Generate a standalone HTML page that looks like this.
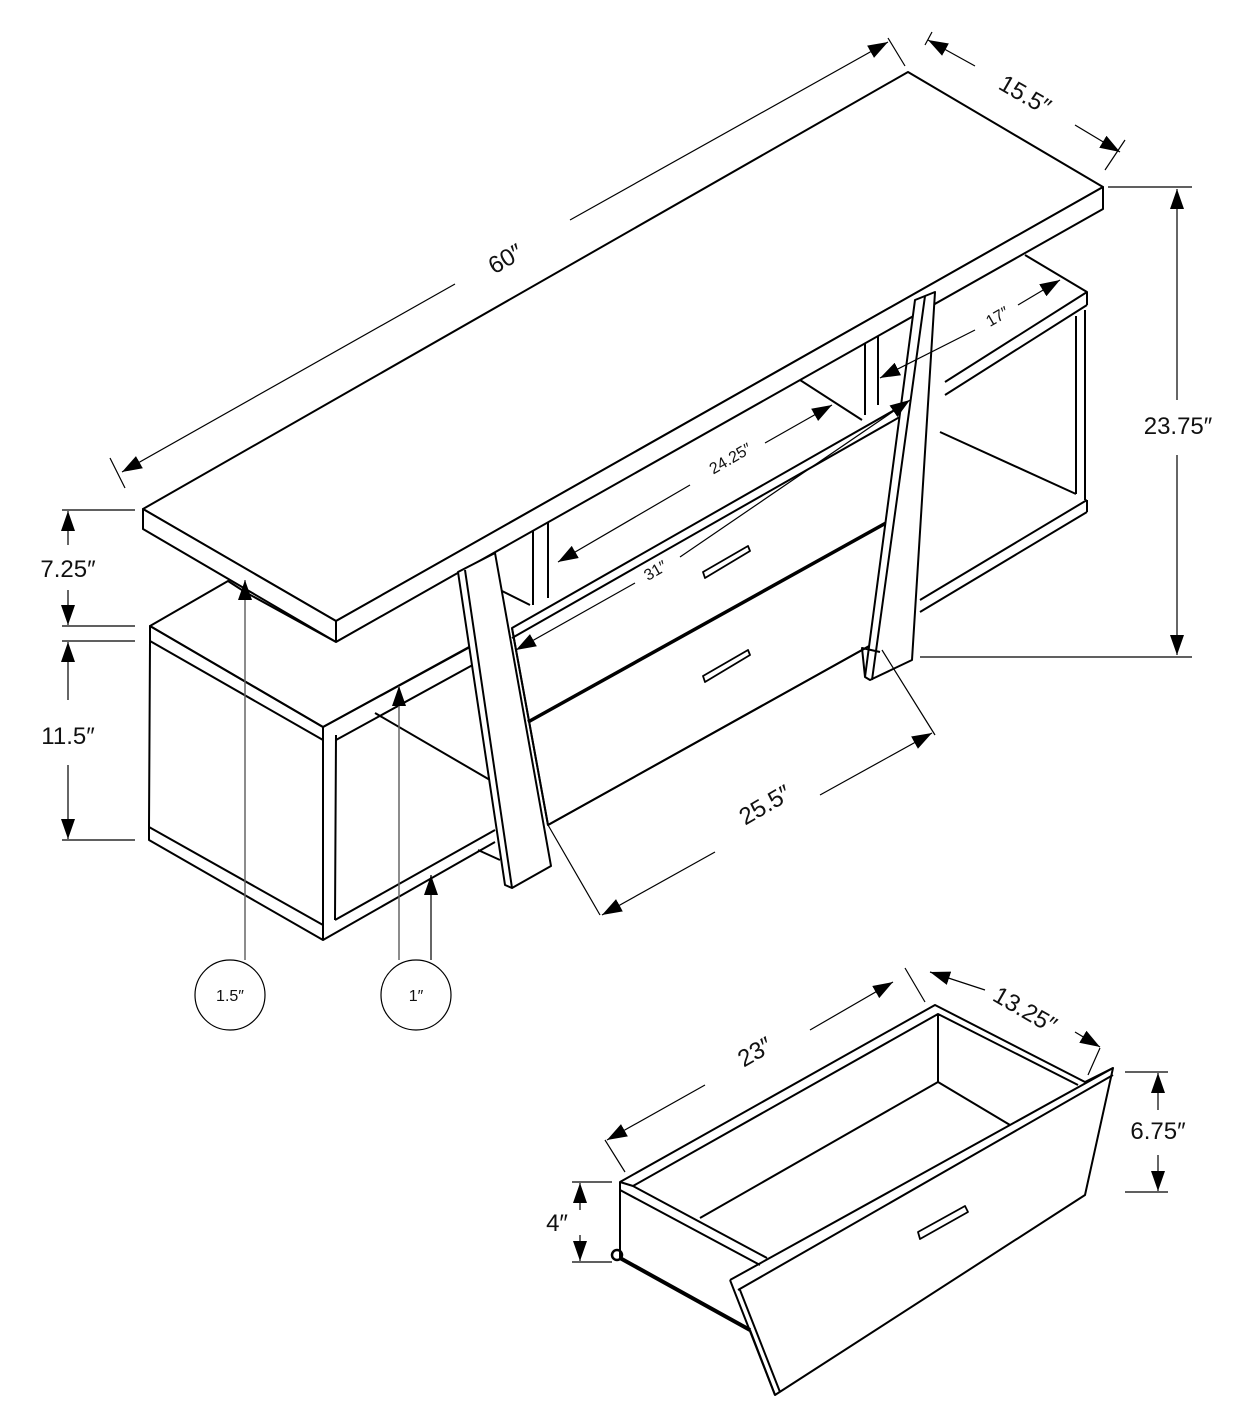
<!DOCTYPE html>
<html><head><meta charset="utf-8"><style>
html,body{margin:0;padding:0;background:#fff}
svg{display:block}
text{font-family:"Liberation Sans",sans-serif;fill:#111}
</style></head><body>
<svg width="1252" height="1404" viewBox="0 0 1252 1404" xmlns="http://www.w3.org/2000/svg">
<defs>
<marker id="b" viewBox="0 0 10 10" refX="10" refY="5" markerWidth="20" markerHeight="20" orient="auto-start-reverse" markerUnits="userSpaceOnUse"><path d="M0,1.5 L10,5 L0,8.5 z" fill="#000"/></marker>
</defs>
<g fill="none" stroke="#000" stroke-width="2" stroke-linejoin="round">
<path d="M1025,255 L1087,292 L1087,305 M1087,292 L945,382 M1087,305 L945,395 M1085,310 L1085,500 M1076,316 L1076,494 M1087,500 L920,600 M1087,512 L920,612 M1087,500 L1087,512 M940,432 L1076,494"/>
<path d="M865,340 L865,415 M878,333 L878,405 M800,380 L862,420 M533,530 L533,605 M548,522 L548,598 M500,590 L530,605"/>
<path fill="#fff" d="M143,509 L908,72 L1103,187 L336,621 Z"/>
<path fill="#fff" d="M143,509 L336,621 L1103,187 L1103,209 L336,642 L143,529 Z"/>
<path d="M336,621 L336,642"/>
<path fill="#fff" d="M150,626 L228,581 L245,592 L336,642 L470,566 L470,647 L323,727 Z"/>
<path d="M150,626 L323,727 L323,740 L150,641 Z M150,641 L149,827 L323,925 M149,827 L149,840 L323,940 L323,925 M323,740 L323,940 M336,735 L335,920 M323,727 L500,630 M336,740 L500,650 M375,713 L490,780 M323,940 L495,842 M335,920 L495,830 M478,850 L500,860"/>
<path fill="#fff" d="M512,628 L912,400 L880,640 L548,825 Z"/>
<path d="M512,638 L912,410"/>
<path d="M528,722 L895,518" stroke-width="3.5"/>
<path d="M512,628 L548,825 M548,825 L880,640"/>
<path fill="#fff" d="M703,572 L748,546 L750,551 L705,578 Z M703,676 L748,650 L750,655 L705,682 Z" stroke-width="1.8"/>
<path fill="#fff" d="M458,572 L495,553 L551,866 L512,888 L505,885 Z"/>
<path d="M465,570 L512,888"/>
<path fill="#fff" d="M915,300 L935,292 L912,660 L870,680 L865,677 Z"/>
<path d="M925,296 L872,680 M880,652 L862,648 L865,677"/>
<!-- drawer -->
<path fill="#fff" d="M620,1182 L935,1005 L1085,1082 L1113,1068 L1085,1195 L775,1395 L750,1330 L620,1258 Z"/>
<path d="M633,1186 L938,1014 L1078,1085 M938,1014 L938,1082 L700,1218 M938,1082 L1010,1125 M620,1182 L633,1186 L767,1258 M620,1190 L760,1265 M730,1280 L1113,1068 M738,1290 L1113,1075 M730,1280 L775,1395 M740,1290 L780,1392"/>
<path d="M620,1258 L750,1330" stroke-width="4"/>
<circle cx="617" cy="1255" r="5" stroke-width="2.5"/>
<path fill="#fff" d="M918,1232 L965,1206 L968,1212 L920,1239 Z" stroke-width="1.8"/>
</g>
<g fill="none" stroke="#000" stroke-width="1.2">
<path d="M122,472 L455,284" marker-start="url(#b)"/>
<path d="M570,220 L888,42" marker-end="url(#b)"/>
<path d="M125,488 L110,458 M905,66 L888,38 M925,45 L932,32 M1105,170 L1125,140"/>
<path d="M928,40 L975,66" marker-start="url(#b)"/>
<path d="M1075,125 L1120,152" marker-end="url(#b)"/>
<path d="M1108,187 L1192,187 M920,657 L1192,657"/>
<path d="M1177,400 L1177,189" marker-end="url(#b)"/>
<path d="M1177,455 L1177,655" marker-end="url(#b)"/>
<path d="M62,510 L135,510 M62,626 L135,626 M62,641 L135,641 M62,840 L135,840"/>
<path d="M68,545 L68,511" marker-end="url(#b)"/>
<path d="M68,590 L68,625" marker-end="url(#b)"/>
<path d="M68,700 L68,642" marker-end="url(#b)"/>
<path d="M68,765 L68,839" marker-end="url(#b)"/>
<path d="M245,960 L245,580" marker-end="url(#b)" stroke="#666" stroke-width="1.5"/>
<path d="M399,960 L399,686" marker-end="url(#b)" stroke="#666" stroke-width="1.5"/>
<path d="M431,960 L431,875" marker-end="url(#b)" stroke="#333" stroke-width="1.5"/>
<circle cx="230" cy="995" r="35"/>
<circle cx="416" cy="995" r="35"/>
<path d="M548,825 L600,915 M882,650 L935,735"/>
<path d="M715,852 L602,915" marker-end="url(#b)"/>
<path d="M820,795 L932,733" marker-end="url(#b)"/>
<path d="M690,485 L558,562" marker-end="url(#b)"/>
<path d="M765,443 L832,405" marker-end="url(#b)"/>
<path d="M635,583 L516,650" marker-end="url(#b)"/>
<path d="M680,557 L910,400" marker-end="url(#b)"/>
<path d="M975,330 L880,378" marker-end="url(#b)"/>
<path d="M1018,305 L1060,280" marker-end="url(#b)"/>
<path d="M605,1140 L625,1172 M905,968 L925,1002 M1100,1048 L1088,1075"/>
<path d="M705,1085 L607,1140" marker-end="url(#b)"/>
<path d="M810,1030 L893,982" marker-end="url(#b)"/>
<path d="M985,990 L930,972" marker-end="url(#b)"/>
<path d="M1075,1032 L1100,1047" marker-end="url(#b)"/>
<path d="M1125,1072 L1168,1072 M1125,1192 L1168,1192"/>
<path d="M1158,1110 L1158,1073" marker-end="url(#b)"/>
<path d="M1158,1155 L1158,1191" marker-end="url(#b)"/>
<path d="M572,1182 L612,1182 M572,1262 L612,1262"/>
<path d="M580,1210 L580,1183" marker-end="url(#b)"/>
<path d="M580,1235 L580,1261" marker-end="url(#b)"/>
</g>
<g font-size="24">
<text x="505" y="267" text-anchor="middle" transform="rotate(-30 505 258)">60″</text>
<text x="1025" y="103" text-anchor="middle" transform="rotate(30 1025 95)">15.5″</text>
<text x="1178" y="434" text-anchor="middle">23.75″</text>
<text x="68" y="577" text-anchor="middle">7.25″</text>
<text x="68" y="744" text-anchor="middle">11.5″</text>
<text x="765" y="813" text-anchor="middle" transform="rotate(-30 765 805)">25.5″</text>
<text x="755" y="1060" text-anchor="middle" transform="rotate(-30 755 1052)">23″</text>
<text x="1025" y="1018" text-anchor="middle" transform="rotate(30 1025 1010)">13.25″</text>
<text x="1158" y="1139" text-anchor="middle">6.75″</text>
<text x="557" y="1231" text-anchor="middle">4″</text>
</g>
<g font-size="16">
<text x="730" y="464" text-anchor="middle" transform="rotate(-30 730 458)">24.25″</text>
<text x="655" y="576" text-anchor="middle" transform="rotate(-30 655 570)">31″</text>
<text x="997" y="322" text-anchor="middle" transform="rotate(-30 997 316)">17″</text>
<text x="230" y="1001" text-anchor="middle">1.5″</text>
<text x="416" y="1001" text-anchor="middle">1″</text>
</g>
</svg>
</body></html>
